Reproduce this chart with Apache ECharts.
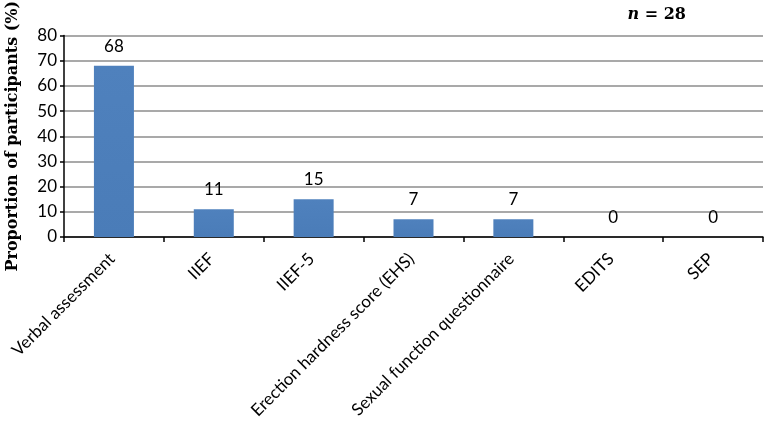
<!DOCTYPE html>
<html><head><meta charset="utf-8">
<script src="https://cdn.jsdelivr.net/npm/echarts@6/dist/echarts.min.js"></script>
<style>html,body{margin:0;padding:0;background:#fff}#c{width:764px;height:422px}</style>
</head><body><div id="c"></div>
<script>
var categories = ["Verbal assessment","IIEF","IIEF-5","Erection hardness score (EHS)","Sexual function questionnaire","EDITS","SEP"];
var values = [68, 11, 15, 7, 7, 0, 0];
var yTicks = {min: 0, max: 80, interval: 10};

var chart = echarts.init(document.getElementById('c'), null, {renderer: 'canvas'});
chart.setOption({
  animation: false,
  backgroundColor: '#fff',
  grid: {left: 64, right: 1, top: 35.5, bottom: 185, outerBoundsMode: 'none', containLabel: false},
  title: {
    text: '{i|n} = 28',
    right: 73, top: 2,
    textStyle: {
      fontFamily: 'DejaVu Serif', fontWeight: 'bold', fontSize: 16, color: '#000',
      rich: {i: {fontFamily: 'DejaVu Serif', fontStyle: 'italic', fontWeight: 'bold', fontSize: 16, color: '#000'}}
    }
  },
  xAxis: {
    type: 'category', data: categories,
    axisLine: {lineStyle: {color: '#000', width: 1.5}},
    axisTick: {show: true, length: 5, lineStyle: {color: '#000', width: 1.5}},
    axisLabel: {rotate: 45, interval: 0, margin: 17, color: '#000', fontFamily: 'Lato', fontSize: 17, padding: [0, 3, 0, 0]}
  },
  yAxis: {
    type: 'value', min: yTicks.min, max: yTicks.max, interval: yTicks.interval,
    name: 'Proportion of participants (%)', nameLocation: 'middle', nameGap: 43,
    nameTextStyle: {fontFamily: 'DejaVu Serif', fontWeight: 'bold', fontSize: 16, color: '#000'},
    axisLine: {show: true, lineStyle: {color: '#000', width: 1.5}},
    axisTick: {show: true, length: 4, lineStyle: {color: '#000', width: 1.5}},
    axisLabel: {color: '#000', fontFamily: 'Lato', fontSize: 17, margin: 7},
    splitLine: {lineStyle: {color: '#8c8c8c', width: 1.5}}
  },
  series: [{
    type: 'bar', data: values, barWidth: 40,
    itemStyle: {color: new echarts.graphic.LinearGradient(0,0,0,1,[{offset:0,color:'#4f81bd'},{offset:1,color:'#4a7cb8'}])},
    label: {show: true, position: 'top', distance: 11, color: '#000', fontFamily: 'Lato', fontSize: 17}
  }]
});
</script></body></html>
